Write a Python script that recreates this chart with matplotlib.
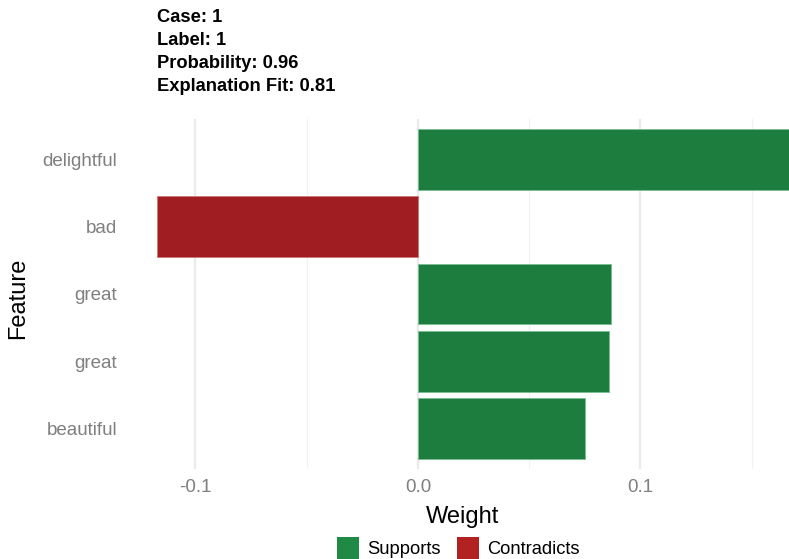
import matplotlib
matplotlib.use("Agg")
import matplotlib.pyplot as plt
from matplotlib.patches import Rectangle

plt.rcParams['font.family'] = ['Liberation Sans', 'DejaVu Sans']

# Feature weights, listed top to bottom
features = ["delightful", "bad", "great", "great", "beautiful"]
weights = [0.170, -0.1173, 0.0870, 0.0858, 0.0753]
title_lines = ["Case: 1", "Label: 1", "Probability: 0.96", "Explanation Fit: 0.81"]
xticks = [-0.1, 0.0, 0.1]
xtick_labels = ["-0.1", "0.0", "0.1"]
minor_ticks = [-0.05, 0.05, 0.15]

support_fill, support_edge = "#1c7d3f", "#7dbd93"
contra_fill, contra_edge = "#a01e22", "#cf7a7c"
support_key, contra_key = "#1f8a44", "#b22222"

W, H = 789, 559
fig = plt.figure(figsize=(W / 100, H / 100), dpi=100)
ax = fig.add_axes([157 / W, 1 - 469 / H, (W - 157) / W, 350 / H])

n = len(features)
ypos = [n - 1 - i for i in range(n)]
for y, w in zip(ypos, weights):
    if w >= 0:
        fc, ec = support_fill, support_edge
    else:
        fc, ec = contra_fill, contra_edge
    ax.barh(y, w, height=0.9, color=fc, edgecolor=ec, linewidth=0.7, zorder=3)

ax.set_xlim(-0.1173, 0.1668)
ax.set_ylim(-0.6, n - 0.4)

ax.set_xticks(xticks)
ax.set_xticklabels(xtick_labels)
ax.set_xticks(minor_ticks, minor=True)
ax.set_yticks(ypos)
ax.set_yticklabels(features)

ax.grid(axis='x', which='major', color='#ebebeb', linewidth=1.6, zorder=0)
ax.grid(axis='x', which='minor', color='#f2f2f2', linewidth=0.9, zorder=0)
ax.grid(axis='y', visible=False)
for s in ax.spines.values():
    s.set_visible(False)
ax.tick_params(axis='both', which='both', length=0, labelsize=13.5,
               labelcolor='#7f7f7f')
ax.tick_params(axis='y', pad=28.8)
ax.tick_params(axis='x', pad=7.5)
ax.set_facecolor('white')

# Axis titles
fig.text(463 / W, 1 - 517 / H, "Weight", ha='center', va='center', fontsize=17)
fig.text(18 / W, 1 - 298 / H, "Feature", ha='center', va='center',
         fontsize=17, rotation=90)

# Title block
for i, line in enumerate(title_lines):
    fig.text(157 / W, 1 - (18 + i * 22.7) / H, line, ha='left', va='center',
             fontsize=13.2, fontweight='bold', color='black')

# Legend
key = 22
entries = [(337, support_key, "Supports"), (457, contra_key, "Contradicts")]
for x0, c, lab in entries:
    fig.patches.append(Rectangle((x0 / W, 1 - 559 / H), key / W, key / H,
                                 transform=fig.transFigure, facecolor=c,
                                 edgecolor='none'))
    fig.text((x0 + 30) / W, 1 - 549 / H, lab, ha='left', va='center',
             fontsize=13.2)

fig.savefig("out.png", dpi=100, facecolor='white')
